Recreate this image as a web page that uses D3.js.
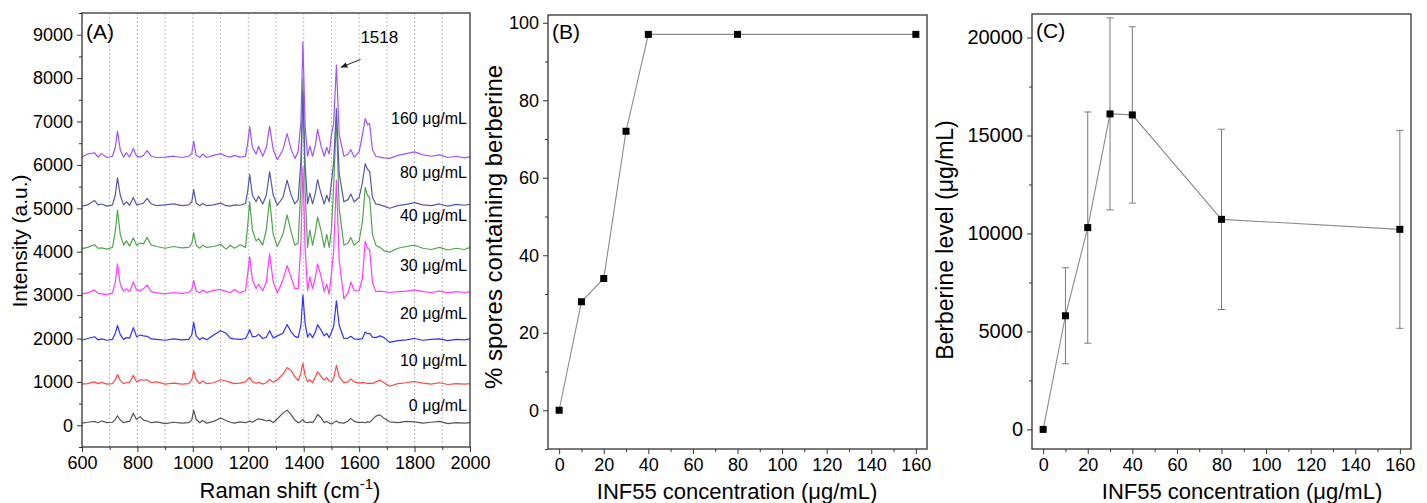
<!DOCTYPE html>
<html>
<head>
<meta charset="utf-8">
<script src="https://cdn.jsdelivr.net/npm/d3@7"></script>
<style>
  body { margin: 0; background: #fff; }
  svg { display: block; font-family: "Liberation Sans", Arial, sans-serif; }
</style>
</head>
<body>
<div id="chart"></div>
<script>
// ---- Panel A: Raman spectra ----
const ramanShift = [
  600, 620, 645, 658, 670, 690, 710, 720, 728, 738,
  750, 760, 772, 785, 797, 810, 822, 835, 850, 870,
  900, 930, 960, 985, 996, 1003, 1012, 1025, 1035, 1050,
  1075, 1100, 1120, 1135, 1150, 1170, 1190, 1198, 1205, 1215,
  1228, 1237, 1252, 1265, 1277, 1290, 1305, 1325, 1340, 1355,
  1368, 1380, 1390, 1397, 1405, 1414, 1422, 1432, 1442, 1450,
  1462, 1474, 1483, 1492, 1500, 1508, 1518, 1528, 1545, 1560,
  1570, 1582, 1600, 1612, 1622, 1630, 1638, 1648, 1660, 1675,
  1690, 1710, 1740, 1770, 1800, 1830, 1860, 1890, 1920, 1950,
  1980, 2000
];
const intensity0 = [
  50, 70, 90, 60, 100, 60, 70, 130, 220, 120,
  60, 80, 90, 280, 130, 200, 120, 100, 60, 80,
  40, 70, 50, 60, 120, 350, 140, 60, 110, 50,
  90, 170, 110, 70, 50, 80, 60, 80, 100, 70,
  120, 150, 130, 100, 120, 60, 150, 280, 350, 240,
  120, 60, 90, 130, 70, 60, 80, 60, 150, 250,
  180, 60, 90, 50, 30, 60, 100, 60, 50, 100,
  160, 90, 60, 70, 60, 80, 70, 130, 210, 240,
  160, 80, 60, 90, 80, 50, 70, 90, 40, 60,
  50, 60
];
const intensity10 = [
  950, 960, 1000, 960, 990, 950, 960, 1050, 1170, 1030,
  960, 980, 990, 1150, 1000, 1050, 1040, 1050, 980, 1000,
  950, 970, 950, 960, 1040, 1260, 1050, 960, 1020, 960,
  980, 1050, 1020, 990, 960, 970, 1000, 1060, 1100, 1000,
  970, 990, 950, 980, 1060, 990, 1050, 1180, 1330, 1260,
  1120, 1030, 1200, 1430, 1150, 1000, 1050, 980, 1120, 1230,
  1130, 1040, 1100, 1020, 1000, 1080, 1380, 1120, 980, 1000,
  1070, 1000, 970, 990, 980, 960, 970, 960, 1000, 1040,
  980, 900, 960, 980, 1010, 970, 950, 980, 940, 960,
  950, 960
];
const intensity20 = [
  1960, 2000, 2040, 1970, 1990, 1960, 1980, 2120, 2300, 2090,
  1980, 2020, 2010, 2250, 2040, 2080, 2060, 2050, 1990, 1980,
  1960, 1990, 1970, 1980, 2080, 2370, 2060, 1970, 2020, 1970,
  2080, 2180, 2120, 2010, 1990, 1980, 2000, 2100, 2200, 2040,
  2050, 2100, 2000, 2030, 2180, 2010, 2060, 2120, 2320, 2150,
  2050, 2020, 2300, 3000, 2350, 2030, 2120, 2020, 2150, 2320,
  2200, 2060, 2120, 2020, 2150, 2280, 2870, 2300, 2000, 2010,
  2050, 1990, 1980, 2000, 2150, 2110, 2120, 2030, 2020, 2060,
  2020, 1910, 1950, 1970, 2000, 1960, 1980, 1990, 1950, 1980,
  1970, 1990
];
const intensity30 = [
  3030, 3050, 3120, 3040, 3030, 3010, 3050, 3300, 3720, 3250,
  3090, 3150, 3080, 3300, 3120, 3100, 3150, 3230, 3080, 3050,
  3030, 3060, 3040, 3060, 3120, 3340, 3100, 3050, 3120, 3060,
  3110, 3130, 3080, 3060, 3130, 3050, 3100, 3500, 3890, 3350,
  3150, 3250, 3100, 3300, 3950, 3300, 3050, 3350, 3680, 3400,
  3150, 3150, 4200, 5950, 4100, 3100, 3420, 3150, 3400, 3720,
  3450, 3080, 3250, 3020, 3500, 4000, 5650, 3800, 2920, 3050,
  3300, 3100, 3100, 3400, 4240, 4080, 4050, 3300, 3080, 3090,
  3080, 3060, 3080, 3090, 3120, 3080, 3060, 3090, 3050, 3080,
  3060, 3080
];
const intensity40 = [
  4070, 4100, 4160, 4080, 4090, 4060, 4100, 4450, 4960, 4400,
  4150, 4250, 4130, 4320, 4150, 4200, 4180, 4330, 4150, 4120,
  4080, 4120, 4090, 4100, 4180, 4440, 4150, 4080, 4150, 4100,
  4120, 4170, 4060, 4150, 4080, 4160, 4100, 4600, 5150, 4500,
  4250, 4300, 4150, 4500, 5200, 4400, 4120, 4400, 4850, 4450,
  4150, 4200, 5500, 7990, 5400, 4100, 4500, 4150, 4450, 4800,
  4500, 4100, 4400, 4100, 4500, 5500, 7100, 5000, 4150, 4200,
  4330, 4150, 4250, 4700, 5480, 5300, 5250, 4400, 4150, 4100,
  4020, 3990, 4080, 4120, 4150, 4080, 4050, 4100, 4040, 4080,
  4050, 4100
];
const intensity80 = [
  5050, 5080, 5180, 5080, 5100, 5050, 5080, 5300, 5700, 5300,
  5080, 5150, 5070, 5250, 5080, 5100, 5120, 5230, 5100, 5060,
  5080, 5100, 5060, 5080, 5150, 5430, 5120, 5060, 5110, 5060,
  5080, 5120, 5060, 5050, 5080, 5070, 5110, 5400, 5780, 5300,
  5150, 5280, 5100, 5300, 5840, 5300, 5070, 5250, 5650, 5300,
  5100, 5200, 6100, 7700, 6000, 5100, 5350, 5100, 5350, 5660,
  5350, 5100, 5300, 5150, 5600, 6050, 7300, 5800, 5150, 5200,
  5330, 5150, 5250, 5600, 6030, 5900, 5850, 5250, 5100, 5080,
  5050, 5000, 5060, 5090, 5130, 5080, 5060, 5100, 5050, 5090,
  5070, 5090
];
const intensity160 = [
  6180, 6250, 6280, 6180, 6260, 6170, 6200, 6400, 6780, 6350,
  6180, 6280, 6180, 6380, 6200, 6180, 6220, 6330, 6200, 6170,
  6180, 6200, 6170, 6200, 6260, 6550, 6220, 6170, 6250, 6170,
  6220, 6260, 6200, 6180, 6220, 6180, 6200, 6500, 6880, 6400,
  6250, 6430, 6200, 6400, 6890, 6350, 6120, 6350, 6720, 6350,
  6150, 6300, 7000, 8830, 6900, 6200, 6430, 6200, 6450, 6820,
  6450, 6200, 6400, 6250, 6700, 6950, 8300, 6700, 6200, 6250,
  6350, 6180, 6300, 6700, 7070, 6930, 6950, 6350, 6200, 6180,
  6160, 6150, 6220, 6260, 6300, 6230, 6200, 6230, 6170, 6200,
  6160, 6190
];
const spectrumLabels = ["0 μg/mL", "10 μg/mL", "20 μg/mL", "30 μg/mL", "40 μg/mL", "80 μg/mL", "160 μg/mL"];
const labelLevel = [330, 1366, 2449, 3555, 4707, 5698, 6942];

// ---- Panels B and C ----
const concentration = [0, 10, 20, 30, 40, 80, 160];
const sporesPct = [0, 28, 34, 72, 97, 97, 97];
const berberineLevel = [0, 5800, 10300, 16100, 16050, 10720, 10210];
const berberineErr = [0, 2450, 5900, 4900, 4500, 4600, 5050];

const spectra = [intensity0, intensity10, intensity20, intensity30, intensity40, intensity80, intensity160];
const colors = ["#555555", "#ff4848", "#3030ff", "#ff3cff", "#4ea64e", "#5858aa", "#a052ff"];

const svg = d3.select("#chart").append("svg")
    .attr("width", 1427)
    .attr("height", 503);

svg.append("defs").append("marker")
    .attr("id", "arrow")
    .attr("viewBox", "0 0 10 10")
    .attr("refX", 9).attr("refY", 5)
    .attr("markerWidth", 7).attr("markerHeight", 7)
    .attr("orient", "auto")
    .append("path")
    .attr("d", "M0,1 L10,5 L0,9 Z")
    .attr("fill", "#222");

// axis helper: major + minor ticks, outward, no domain line
function axis(g, fn, scale, major, minor, fontSize, fmt) {
    g.call(fn(scale).tickValues(major).tickSize(5).tickPadding(4).tickFormat(fmt || d3.format("d")));
    g.append("g").call(fn(scale).tickValues(minor).tickSize(3).tickFormat(""));
    g.selectAll(".domain").remove();
    g.selectAll("line").attr("stroke", "#333");
    g.selectAll("text").attr("font-size", fontSize).attr("fill", "#000")
        .attr("font-family", "'Liberation Sans', Arial, sans-serif");
}

function frame(x, y) {
    svg.append("rect")
        .attr("x", x.range()[0]).attr("y", y.range()[1])
        .attr("width", x.range()[1] - x.range()[0])
        .attr("height", y.range()[0] - y.range()[1])
        .attr("fill", "none").attr("stroke", "#333").attr("stroke-width", 1.3);
}

// ================= Panel A =================
const xA = d3.scaleLinear().domain([600, 2000]).range([82, 470]);
const yA = d3.scaleLinear().domain([-500, 9500]).range([447, 13]);

// dotted vertical grid
svg.append("g").selectAll("line")
    .data(d3.range(700, 2000, 100))
    .join("line")
    .attr("x1", d => xA(d)).attr("x2", d => xA(d))
    .attr("y1", yA(9500)).attr("y2", yA(-500))
    .attr("stroke", "#bdbdbd")
    .attr("stroke-dasharray", "2,2");

const spectrumLine = d3.line()
    .x((d, i) => xA(ramanShift[i]))
    .y(d => yA(d));

svg.append("g").selectAll("path")
    .data(spectra)
    .join("path")
    .attr("fill", "none")
    .attr("stroke", (d, i) => colors[i])
    .attr("stroke-width", 1.2)
    .attr("stroke-linejoin", "round")
    .attr("d", spectrumLine);

axis(svg.append("g").attr("transform", "translate(0,447)"), d3.axisBottom, xA,
    d3.range(600, 2001, 200), d3.range(700, 2000, 200), 18);
axis(svg.append("g").attr("transform", "translate(82,0)"), d3.axisLeft, yA,
    d3.range(0, 9001, 1000), d3.range(-500, 9501, 1000), 18);
frame(xA, yA);

svg.append("g").selectAll("text")
    .data(spectrumLabels)
    .join("text")
    .attr("x", xA(2000) - 3)
    .attr("y", (d, i) => yA(labelLevel[i]))
    .attr("text-anchor", "end")
    .attr("font-size", 16)
    .attr("fill", "#000")
    .text(d => d);

// 1518 annotation
svg.append("line")
    .attr("x1", xA(1605)).attr("y1", yA(8430))
    .attr("x2", xA(1535)).attr("y2", yA(8250))
    .attr("stroke", "#222").attr("stroke-width", 1)
    .attr("marker-end", "url(#arrow)");
svg.append("text")
    .attr("x", xA(1518) + 24).attr("y", yA(9000) + 8)
    .attr("font-size", 17).attr("fill", "#000")
    .text("1518");

svg.append("text").attr("x", 86).attr("y", 39).attr("font-size", 21).attr("fill", "#000").text("(A)");

svg.append("text")
    .attr("x", 290).attr("y", 498)
    .attr("text-anchor", "middle")
    .attr("font-size", 22).attr("fill", "#000")
    .text("Raman shift (cm")
    .append("tspan").attr("dy", -9).attr("font-size", 15).text("-1")
    .select(function () { return this.parentNode; })
    .append("tspan").attr("dy", 9).text(")");

svg.append("text")
    .attr("transform", "translate(27,241) rotate(-90)")
    .attr("text-anchor", "middle")
    .attr("font-size", 21).attr("fill", "#000")
    .text("Intensity (a.u.)");

// ================= Panel B =================
const xB = d3.scaleLinear().domain([-5, 165]).range([548, 927]);
const yB = d3.scaleLinear().domain([-10, 102]).range([449, 15]);

axis(svg.append("g").attr("transform", "translate(0,449)"), d3.axisBottom, xB,
    d3.range(0, 161, 20), d3.range(10, 161, 20), 18);
axis(svg.append("g").attr("transform", "translate(548,0)"), d3.axisLeft, yB,
    d3.range(0, 101, 20), d3.range(-10, 101, 20), 18);
frame(xB, yB);

svg.append("path")
    .datum(concentration)
    .attr("fill", "none")
    .attr("stroke", "#8a8a8a")
    .attr("stroke-width", 1.1)
    .attr("d", d3.line().x(d => xB(d)).y((d, i) => yB(sporesPct[i])));

svg.append("g").selectAll("rect")
    .data(concentration)
    .join("rect")
    .attr("x", d => xB(d) - 3.5)
    .attr("y", (d, i) => yB(sporesPct[i]) - 3.5)
    .attr("width", 7).attr("height", 7)
    .attr("fill", "#000");

svg.append("text").attr("x", 552).attr("y", 39).attr("font-size", 21).attr("fill", "#000").text("(B)");

svg.append("text")
    .attr("x", 737).attr("y", 499)
    .attr("text-anchor", "middle")
    .attr("font-size", 22).attr("fill", "#000")
    .text("INF55 concentration (μg/mL)");

svg.append("text")
    .attr("transform", "translate(502,227) rotate(-90)")
    .attr("text-anchor", "middle")
    .attr("font-size", 24).attr("fill", "#000")
    .text("% spores containing berberine");

// ================= Panel C =================
const xC = d3.scaleLinear().domain([-5, 165]).range([1032, 1411]);
const yC = d3.scaleLinear().domain([-1000, 21200]).range([449, 14]);

axis(svg.append("g").attr("transform", "translate(0,449)"), d3.axisBottom, xC,
    d3.range(0, 161, 20), d3.range(10, 161, 20), 18);
axis(svg.append("g").attr("transform", "translate(1032,0)"), d3.axisLeft, yC,
    d3.range(0, 20001, 5000), d3.range(2500, 20001, 5000), 20);
frame(xC, yC);

// error bars
const errG = svg.append("g").attr("stroke", "#7a7a7a").attr("stroke-width", 1);
concentration.forEach((c, i) => {
    if (!berberineErr[i]) return;
    const x = xC(c), top = yC(berberineLevel[i] + berberineErr[i]), bot = yC(berberineLevel[i] - berberineErr[i]);
    errG.append("line").attr("x1", x).attr("x2", x).attr("y1", top).attr("y2", bot);
    errG.append("line").attr("x1", x - 3.5).attr("x2", x + 3.5).attr("y1", top).attr("y2", top);
    errG.append("line").attr("x1", x - 3.5).attr("x2", x + 3.5).attr("y1", bot).attr("y2", bot);
});

svg.append("path")
    .datum(concentration)
    .attr("fill", "none")
    .attr("stroke", "#8a8a8a")
    .attr("stroke-width", 1.1)
    .attr("d", d3.line().x(d => xC(d)).y((d, i) => yC(berberineLevel[i])));

svg.append("g").selectAll("rect")
    .data(concentration)
    .join("rect")
    .attr("x", d => xC(d) - 3.5)
    .attr("y", (d, i) => yC(berberineLevel[i]) - 3.5)
    .attr("width", 7).attr("height", 7)
    .attr("fill", "#000");

svg.append("text").attr("x", 1036).attr("y", 38).attr("font-size", 21).attr("fill", "#000").text("(C)");

svg.append("text")
    .attr("x", 1242).attr("y", 499)
    .attr("text-anchor", "middle")
    .attr("font-size", 22).attr("fill", "#000")
    .text("INF55 concentration (μg/mL)");

svg.append("text")
    .attr("transform", "translate(953,240) rotate(-90)")
    .attr("text-anchor", "middle")
    .attr("font-size", 23).attr("fill", "#000")
    .text("Berberine level (μg/mL)");
</script>
</body>
</html>
